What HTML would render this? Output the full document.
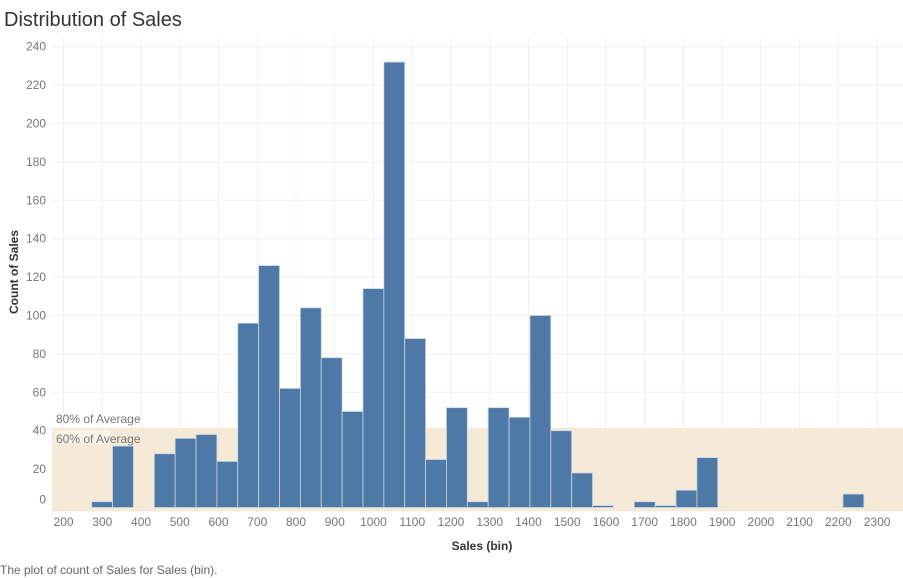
<!DOCTYPE html>
<html><head><meta charset="utf-8"><style>
body{margin:0;background:#fff;font-family:"Liberation Sans",sans-serif}
svg{display:block}
</style></head><body>
<svg id="chart" width="903" height="578">
<text x="4" y="26" font-size="20" fill="#333">Distribution of Sales</text>
<g id="grid"></g><g id="band"></g><g id="bars"></g><g id="axes"></g>
<text x="18" y="272" font-size="12" font-weight="bold" fill="#333" text-anchor="middle" transform="rotate(-90 18 272)">Count of Sales</text>
<text x="482" y="550" font-size="12" font-weight="bold" fill="#333" text-anchor="middle">Sales (bin)</text>
<text x="0" y="574" font-size="12" fill="#666">The plot of count of Sales for Sales (bin).</text>
</svg>
<script>
const binStart = 272.6;
const binSize = 53.87;
const counts = [3,32,0,28,36,38,24,96,126,62,104,78,50,114,232,88,25,52,3,52,47,100,40,18,1,0,3,1,9,26,0,0,0,0,0,0,7];
const xTicks = [200,300,400,500,600,700,800,900,1000,1100,1200,1300,1400,1500,1600,1700,1800,1900,2000,2100,2200,2300];
const yTicks = [0,20,40,60,80,100,120,140,160,180,200,220,240];
const bandRange = [-2, 41.5];
const NS="http://www.w3.org/2000/svg";
const X=v=>102.3+(v-300)*0.3874;
const Y=v=>507.5-v*1.92;
const L=52,R=903;
function mk(t,a,p){const e=document.createElementNS(NS,t);for(const k in a)e.setAttribute(k,a[k]);document.getElementById(p).appendChild(e);return e;}
yTicks.forEach(t=>{
 const g=mk('line',{x1:L,x2:R,y1:Y(t),y2:Y(t),stroke:'#f0f0f0'},'grid');
 
 
 const tx=mk('text',{x:46,y:Y(t)+(t===0?-4:4),'font-size':12,fill:'#777','text-anchor':'end'},'axes');
 tx.textContent=t;
 
 
});
xTicks.forEach(t=>{
 const g=mk('line',{x1:X(t),x2:X(t),y1:38,y2:512,stroke:'#f0f0f0'},'grid');
 
 
 const tx=mk('text',{x:X(t),y:526,'font-size':12,fill:'#777','text-anchor':'middle'},'axes');
 tx.textContent=t;
 
 
});
const b=mk('rect',{x:L,y:Y(bandRange[1]),width:R-L,height:Y(bandRange[0])-Y(bandRange[1]),fill:'#f5e9d8'},'band');


counts.forEach((c,i)=>{
 if(c<=0)return;
 const x0=X(binStart+i*binSize),x1=X(binStart+(i+1)*binSize);
 const r=mk('rect',{x:x0,y:Y(c),width:x1-x0,height:Y(0)-Y(c),fill:'#4e79a7',stroke:'#c9d6e4','stroke-width':0.8},'bars');
 
 
});
const l1=mk('text',{x:56,y:423,'font-size':12,fill:'#777'},'axes');l1.textContent='80% of Average';


const lb=mk('rect',{x:54,y:430,width:56,height:14,fill:'#fff',opacity:0.4},'axes');


const l2=mk('text',{x:56,y:443,'font-size':12,fill:'#777'},'axes');l2.textContent='60% of Average';


</script>
</body></html>
